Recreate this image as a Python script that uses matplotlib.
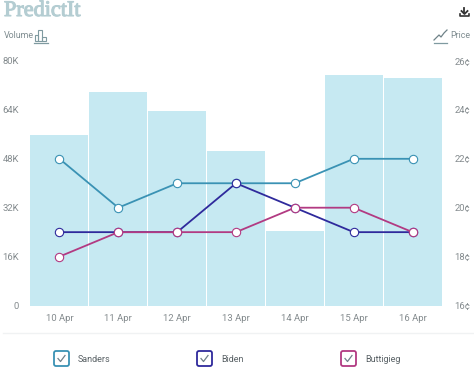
import matplotlib
matplotlib.use('Agg')
import matplotlib.pyplot as plt
import matplotlib.patheffects as pe
from matplotlib.patches import FancyBboxPatch, Rectangle

W, H = 474, 372

days = ['10 Apr', '11 Apr', '12 Apr', '13 Apr', '14 Apr', '15 Apr', '16 Apr']
volume = [55.7, 69.8, 63.6, 50.5, 24.3, 75.4, 74.4]
sanders = [22, 20, 21, 21, 21, 22, 22]
biden = [19, 19, 19, 21, 20, 19, 19]
buttigieg = [18, 19, 19, 19, 20, 20, 19]

vol_ticks = [0, 16, 32, 48, 64, 80]
vol_labels = ['0', '16K', '32K', '48K', '64K', '80K']
price_ticks = [16, 18, 20, 22, 24, 26]
price_labels = ['16¢', '18¢', '20¢', '22¢', '24¢', '26¢']

names = ['Sanders', 'Biden', 'Buttigieg']
colors = ['#3a92b4', '#2f2a9c', '#b23a82']
series = [sanders, biden, buttigieg]

plt.rcParams['font.family'] = ['Roboto', 'DejaVu Sans']
TICK = '#848b8e'

fig = plt.figure(figsize=(W / 100, H / 100), dpi=100)

# chart area, in pixels from the picture
left, right, top, bottom = 30, 442, 61, 305.5
ax = fig.add_axes([left / W, 1 - bottom / H, (right - left) / W, (bottom - top) / H])
ax.bar(range(7), volume, width=0.985, color='#c6e9f2', zorder=1)
ax.set_xlim(-0.5, 6.5)
ax.set_ylim(0, 80)
ax.set_yticks(vol_ticks, vol_labels)
ax.set_xticks(range(7), days)
ax.tick_params(length=0, labelsize=6.8, labelcolor=TICK)
ax.tick_params(axis='x', pad=6)
ax.tick_params(axis='y', pad=8)
for s in ax.spines.values():
    s.set_visible(False)

ax2 = ax.twinx()
ax2.set_ylim(16, 26)
ax2.set_yticks(price_ticks, price_labels)
ax2.tick_params(length=0, labelsize=6.8, labelcolor=TICK, pad=9)
for s in ax2.spines.values():
    s.set_visible(False)
for vals, c in zip(series, colors):
    ax2.plot(range(7), vals, color=c, lw=1.3, marker='o', ms=6, mfc='white', mec=c, mew=0.8)

# overlay for header and legend, y runs down like the picture
ov = fig.add_axes([0, 0, 1, 1], zorder=5)
ov.set_xlim(0, W)
ov.set_ylim(H, 0)
ov.axis('off')

logo = ov.text(4, 11.5, 'PredictIt', family='Liberation Serif', fontsize=16, color='#b4cdd2', va='center', ha='left')
logo.set_path_effects([pe.withStroke(linewidth=0.8, foreground='#b4cdd2')])
ov.text(3.5, 36, 'Volume', fontsize=6.4, color='#7f8c90', va='center')
ov.text(450, 36, 'Price', fontsize=6.4, color='#7f8c90', va='center')

# volume icon
for x0, w, h in [(35, 3.5, 6), (38.5, 4, 11), (42.5, 3.5, 4)]:
    ov.add_patch(Rectangle((x0, 41 - h), w, h, fill=False, ec='#7f9aa0', lw=0.8))
ov.plot([34, 48], [42.5, 42.5], color='#7f9aa0', lw=0.9)

# price icon
ov.plot([434, 439, 441, 444, 447], [40, 35, 37, 33, 30], color='#6f8288', lw=0.9)
ov.plot([434, 447], [42.5, 42.5], color='#7f9aa0', lw=0.9)

# download icon
ov.plot([464.5, 464.5], [8, 13], color='#333333', lw=1.3)
ov.plot([461.5, 464.5, 467.5], [11, 14, 11], color='#333333', lw=1.3)
ov.plot([460, 460, 469, 469], [14, 16, 16, 14], color='#333333', lw=1.2)

# divider and check boxes
ov.plot([3, 474], [333, 333], color='#f0f2f3', lw=1)
for x0, name, c in zip([54, 197, 341], names, colors):
    ov.add_patch(FancyBboxPatch((x0, 351), 15, 15, boxstyle='round,pad=0,rounding_size=2', fill=False, ec=c, lw=1.3))
    ov.plot([x0 + 4, x0 + 6.5, x0 + 11], [358.5, 361.5, 355.5], color='#70808a', lw=0.9)
    ov.text(x0 + 24, 359, name, fontsize=6.5, color='#5a6266', va='center')

plt.savefig('out.png', dpi=100)
